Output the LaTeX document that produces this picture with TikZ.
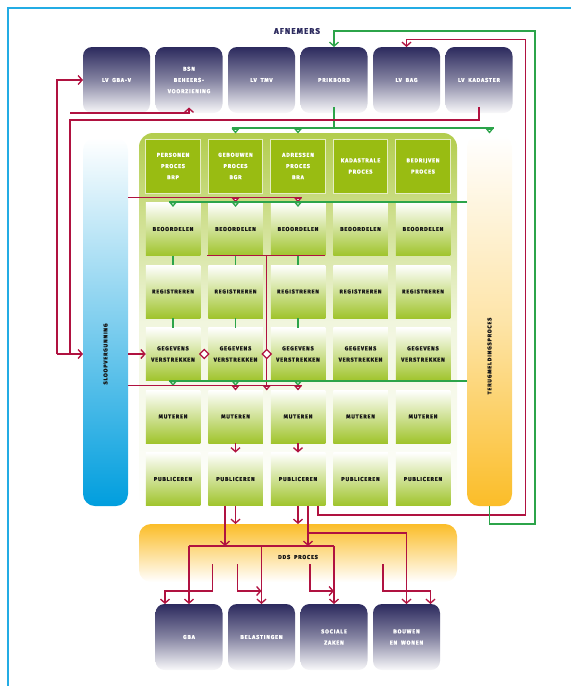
\documentclass[tikz,border=0pt]{standalone}
\usepackage{fontspec}
\newfontfamily\lblfont{Fira Sans}[LetterSpace=14,WordSpace=1.8,BoldFeatures={FakeBold=1.5}]
\usepackage{tikz}
\usetikzlibrary{arrows.meta,positioning,shapes.geometric,calc}
\definecolor{navy}{RGB}{44,42,94}
\definecolor{procgreen}{RGB}{153,188,18}
\definecolor{rowgreen}{RGB}{160,196,44}
\definecolor{cyanbar}{RGB}{0,158,222}
\definecolor{orangebar}{RGB}{251,189,40}
\definecolor{frameblue}{RGB}{35,172,228}
\definecolor{rood}{RGB}{176,18,64}
\definecolor{groen}{RGB}{44,164,74}
\newcommand{\boxfont}{\lblfont\bfseries\fontsize{5.6}{11.2}\selectfont}
\newcommand{\titlefont}{\lblfont\bfseries\fontsize{8}{9}\selectfont}

\begin{document}
\begin{tikzpicture}[x=1pt,y=-1pt,
  afnemer/.style={rounded corners=9pt,top color=navy,bottom color=navy!3,middle color=navy!58,
                  minimum width=67pt,minimum height=66pt,inner sep=0pt,outer sep=0pt,
                  text=white,align=center,font=\boxfont},
  proces/.style={fill=procgreen,draw=white!75!procgreen,line width=0.7pt,minimum width=54.5pt,
                 minimum height=54pt,inner sep=0pt,outer sep=0pt,text=white,align=center,font=\boxfont},
  stap/.style={top color=white,bottom color=rowgreen,minimum width=54.5pt,minimum height=53pt,
               inner sep=0pt,outer sep=0pt,text=black!90,align=center,font=\boxfont},
  balk/.style={rounded corners=12pt,minimum width=45pt,inner sep=0pt,outer sep=0pt},
  balktekst/.style={font=\boxfont,text=black!90},
  ruit/.style={diamond,draw=rood,fill=white,line width=1.2pt,minimum size=9.5pt,inner sep=0pt},
  rline/.style={draw=rood,line width=1.35pt},
  gline/.style={draw=groen,line width=1.35pt},
  rarrow/.style={rline,-{Straight Barb[length=4pt,width=9pt]}},
  garrow/.style={gline,-{Straight Barb[length=4pt,width=9pt]}},
  rtri/.style={rline,-{Triangle[length=5pt,width=8pt,fill=white]}},
  gtri/.style={gline,-{Triangle[length=5pt,width=8pt,fill=white]}}
]
\useasboundingbox (0,0) rectangle (571,686);
\draw[draw=frameblue,line width=1.4pt] (8,686) -- (8,8) -- (571,8);

\node[font=\titlefont,text=navy] (afnemers) at (297,31) {AFNEMERS};
\node[afnemer] (lvgba) at (116.5,80) {LV GBA-V};
\node[afnemer,right=5.5pt of lvgba] (bsn) {BSN\\BEHEERS-\\VOORZIENING};
\node[afnemer,right=5.5pt of bsn] (lvtmv) {LV TMV};
\node[afnemer,right=5.5pt of lvtmv] (prik) {PRIKBORD};
\node[afnemer,right=5.5pt of prik] (lvbag) {LV BAG};
\node[afnemer,right=5.5pt of lvbag] (lvkad) {LV KADASTER};

\node[rounded corners=14pt,top color=procgreen!75,bottom color=white,middle color=procgreen!14,
      minimum width=318pt,minimum height=377pt,inner sep=0pt] (procbg) at (298,321.5) {};
\node[balk,top color=white,bottom color=cyanbar,middle color=cyanbar!50,minimum height=368pt] (sloop) at (105.5,322) {};
\node[balk,top color=white,bottom color=orangebar,middle color=orangebar!40,minimum height=371pt] (terug) at (489.5,320.5) {};
\node[balktekst,rotate=90] (sloopvg) at (105.5,354) {SLOOPVERGUNNING};
\node[balktekst,rotate=90] (terugmld) at (489.5,356) {TERUGMELDINGSPROCES};

\node[proces] (pers) at (173,166) {PERSONEN\\PROCES\\BRP};
\node[proces,right=8pt of pers] (gebouw) {GEBOUWEN\\PROCES\\BGR};
\node[proces,right=8pt of gebouw] (adres) {ADRESSEN\\PROCES\\BRA};
\node[proces,right=8pt of adres] (kadas) {KADASTRALE\\PROCES};
\node[proces,right=8pt of kadas] (bedr) {BEDRIJVEN\\PROCES};

\node[stap,below=9.5pt of pers] (beo1) {BEOORDELEN};
\node[stap,right=8pt of beo1] (beo2) {BEOORDELEN};
\node[stap,right=8pt of beo2] (beo3) {BEOORDELEN};
\node[stap,right=8pt of beo3] (beo4) {BEOORDELEN};
\node[stap,right=8pt of beo4] (beo5) {BEOORDELEN};

\node[stap,below=9.5pt of beo1] (reg1) {REGISTREREN};
\node[stap,right=8pt of reg1] (reg2) {REGISTREREN};
\node[stap,right=8pt of reg2] (reg3) {REGISTREREN};
\node[stap,right=8pt of reg3] (reg4) {REGISTREREN};
\node[stap,right=8pt of reg4] (reg5) {REGISTREREN};

\node[stap,below=9.5pt of reg1] (gev1) {GEGEVENS\\VERSTREKKEN};
\node[stap,right=8pt of gev1] (gev2) {GEGEVENS\\VERSTREKKEN};
\node[stap,right=8pt of gev2] (gev3) {GEGEVENS\\VERSTREKKEN};
\node[stap,right=8pt of gev3] (gev4) {GEGEVENS\\VERSTREKKEN};
\node[stap,right=8pt of gev4] (gev5) {GEGEVENS\\VERSTREKKEN};

\node[stap,below=9.5pt of gev1] (mut1) {MUTEREN};
\node[stap,right=8pt of mut1] (mut2) {MUTEREN};
\node[stap,right=8pt of mut2] (mut3) {MUTEREN};
\node[stap,right=8pt of mut3] (mut4) {MUTEREN};
\node[stap,right=8pt of mut4] (mut5) {MUTEREN};

\node[stap,below=9.5pt of mut1] (pub1) {PUBLICEREN};
\node[stap,right=8pt of pub1] (pub2) {PUBLICEREN};
\node[stap,right=8pt of pub2] (pub3) {PUBLICEREN};
\node[stap,right=8pt of pub3] (pub4) {PUBLICEREN};
\node[stap,right=8pt of pub4] (pub5) {PUBLICEREN};

\node[balk,top color=orangebar,bottom color=white,minimum width=318pt,minimum height=58pt] (dds) at (298,553) {};
\node[balktekst] (ddstekst) at (298,557) {DDS PROCES};

\node[afnemer] (gba) at (189,637) {GBA};
\node[afnemer,right=5.5pt of gba] (bel) {BELASTINGEN};
\node[afnemer,right=5.5pt of bel] (soc) {SOCIALE\\ZAKEN};
\node[afnemer,right=5.5pt of soc] (bouw) {BOUWEN\\EN WONEN};

\coordinate (gtop) at (0,128);
\coordinate (gbeo) at (0,202);
\coordinate (rbeo) at (0,197.5);
\coordinate (gmut) at (0,381);
\coordinate (rmut) at (0,385.5);
\coordinate (rkad) at (0,120);
\coordinate (rbsn) at (0,113);
\coordinate (ddsbus) at (0,546);
\coordinate (links1) at (57,354);
\coordinate (links2) at (70,354);
\coordinate (gloop) at (535,31);
\coordinate (rloop) at (525.5,39.5);
\coordinate (kruis) at ($(gev2.east)!0.5!(gev3.west)$);

\draw[gline] ($(prik.south)+(0,-6)$) -- (prik |- gtop);
\draw[gline] ($(gebouw |- gtop)+(-4,0)$) -- ($(terug |- gtop)+(4,0)$);
\draw[gtri] (gebouw |- gtop) -- ++(0,5.5);
\draw[gtri] (adres |- gtop) -- ++(0,5.5);
\draw[gtri] (terug |- gtop) -- ++(0,5.5);

\draw[rline] (sloop.east |- rbeo) -- ($(beo3 |- rbeo)+(4,0)$);
\draw[rtri] (beo2 |- rbeo) -- ++(0,5);
\draw[rtri] (beo3 |- rbeo) -- ++(0,5);
\draw[gline] (terug.west |- gbeo) -- ($(beo1 |- gbeo)+(-4,0)$);
\draw[gtri] (beo1 |- gbeo) -- ++(0,5);
\draw[gtri] (beo2 |- gbeo) -- ++(0,5);
\draw[gtri] (beo3 |- gbeo) -- ++(0,5);

\draw[gline] (beo1.south) -- (reg1.north);
\draw[gline] (beo2.south) -- (reg2.north);
\draw[gline] (beo3.south) -- (reg3.north);
\draw[gline] (reg1.south) -- (gev1.north);
\draw[gline] (reg2.south) -- (gev2.north);
\draw[gline] (reg3.south) -- (gev3.north);

\draw[rline] ($(beo2.south west)+(-1,0)$) -- (beo3.south east);
\draw[rline] (kruis |- beo2.south) -- (kruis |- rmut);
\draw[rarrow] (sloop.east |- gev1) -- (gev1.west);

\draw[gline] (terug.west |- gmut) -- ($(gev1 |- gmut)+(-4,0)$);
\draw[gtri] (gev1 |- gmut) -- ++(0,5);
\draw[gtri] (gev2 |- gmut) -- ++(0,5);
\draw[gtri] (gev3 |- gmut) -- ++(0,5);
\draw[rline] (sloop.east |- rmut) -- ($(gev3 |- rmut)+(4,0)$);
\draw[rtri] (gev2 |- rmut) -- ++(0,5);
\draw[rtri] (kruis |- rmut) -- ++(0,5);
\draw[rtri] (gev3 |- rmut) -- ++(0,5);

\node[ruit] (ruit1) at ($(gev1.east)!0.5!(gev2.west)$) {};
\node[ruit] (ruit2) at (kruis) {};

\draw[rarrow] (mut2.south) -- (pub2.north);
\draw[rarrow] (mut3.south) -- (pub3.north);
\draw[rarrow] (pub2.south) -- (pub2 |- dds.north);
\draw[rarrow] (pub3.south) -- (pub3 |- dds.north);
\draw[rarrow] ($(pub2.south)+(-10.5,0)$) -- ++(0,40.5);
\draw[rarrow] ($(pub3.south)+(10,0)$) -- ++(0,40.5);
\draw[rarrow] ($(pub3.south)+(10,27.5)$) -| (bouw.north);

\draw[rline] (gba |- ddsbus) -- (soc |- ddsbus);
\draw[rarrow] (gba |- ddsbus) -- (gba.north);
\draw[rarrow] (bel |- ddsbus) -- (bel.north);
\draw[rarrow] (soc |- ddsbus) -- (soc.north);
\draw[rarrow] ($(gba.north)+(23.5,-40)$) -- ($(gba.north)+(23.5,-13)$) -| ($(gba.north)+(-24,0)$);
\draw[rarrow] ($(bel.north)+(-24,-40)$) |- ($(bel.north)+(0,-13)$);
\draw[rarrow] ($(soc.north)+(-24,-40)$) |- ($(soc.north)+(0,-13)$);
\draw[rarrow] ($(bouw.north)+(-23.5,-40)$) -- ($(bouw.north)+(-23.5,-13)$) -| ($(bouw.north)+(24,0)$);

\draw[rline] ($(lvkad.south)+(0,-6)$) |- (links2 |- rkad) -- (links2);
\draw[rarrow] (links2 |- rbsn) -| ($(bsn.south)+(0,-5.5)$);
\draw[rarrow] (links1) -- (sloop.west |- links1);
\draw[rarrow] (links1) |- (lvgba.west);

\draw[rarrow] ($(pub3.south)+(20,0)$) -- ++(0,9.5) -| (rloop) -| (lvbag.north);
\draw[garrow] (terug.south) -- ++(0,18) -| (gloop) -| (prik.north);
\end{tikzpicture}
\end{document}
